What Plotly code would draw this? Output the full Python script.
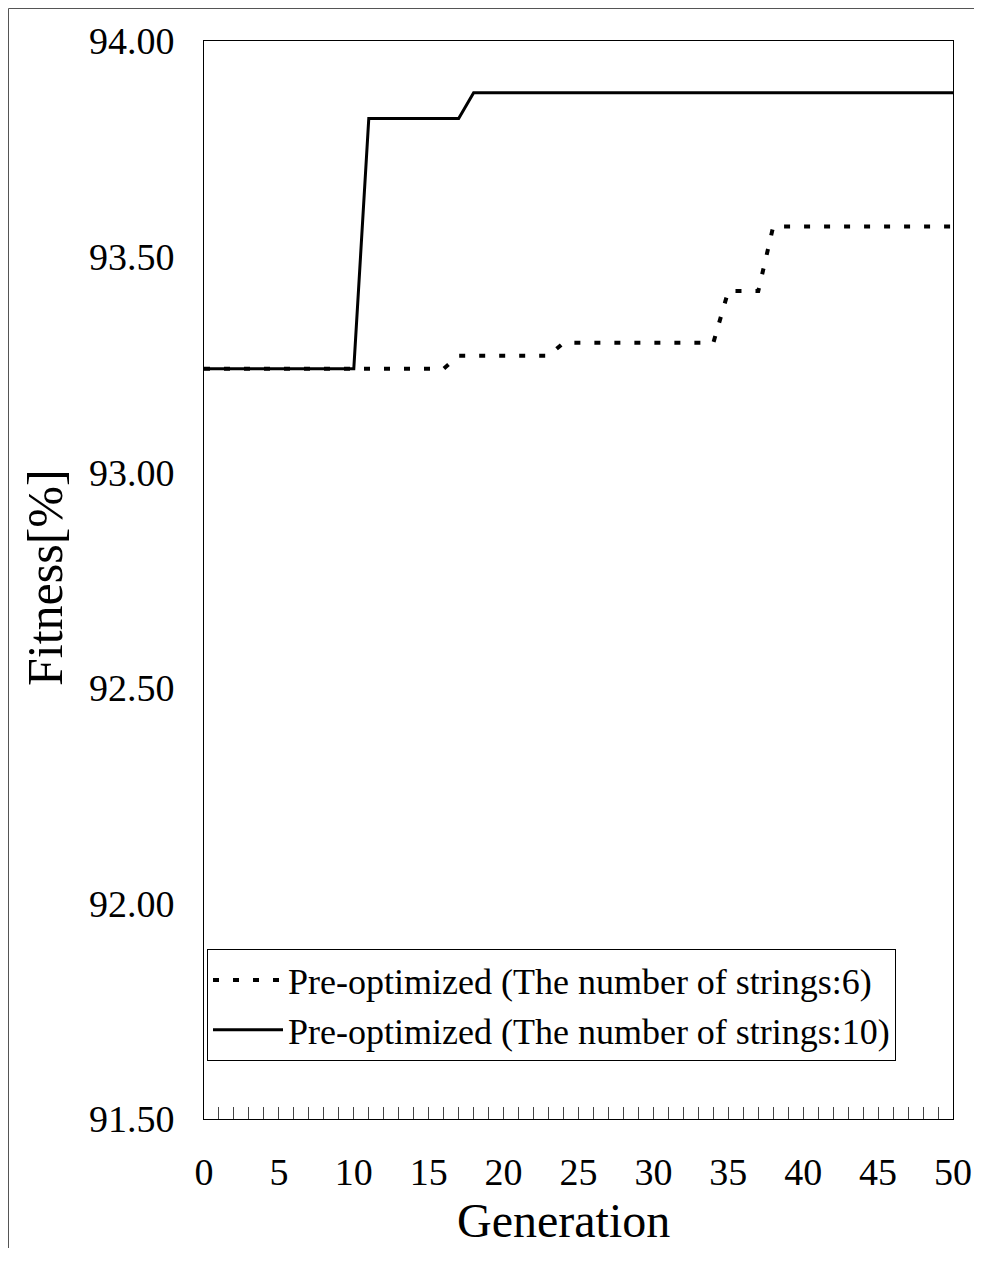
import plotly.graph_objects as go

generations = list(range(0, 51))
strings6 = [93.24] * 17 + [93.27] * 7 + [93.30] * 11 + [93.42] * 3 + [93.57] * 13
strings10 = [93.24] * 11 + [93.82] * 7 + [93.88] * 33
name6 = "Pre-optimized (The number of strings:6)"
name10 = "Pre-optimized (The number of strings:10)"
y_ticks = [91.5, 92.0, 92.5, 93.0, 93.5, 94.0]
x_ticks = list(range(0, 51, 5))
x_title = "Generation"
y_title = "Fitness[%]"

FONT = "Liberation Serif"
OFF = 8  # page body margin
W, H = 972, 1240
# target plot area in page pixels
PL, PR, PT, PB = 204, 953, 41, 1119
L, T = PL - OFF, PT - OFF
R, B = W - (PR - OFF), H - (PB - OFF)
pw, ph = W - L - R, H - T - B

def px(x):
    return (x - PL) / pw

def py(y):
    return (PB - y) / ph

fig = go.Figure()
fig.add_trace(go.Scatter(x=generations, y=strings6, mode="lines", name=name6,
                         line=dict(color="black", width=4, dash="6px,14px")))
fig.add_trace(go.Scatter(x=generations, y=strings10, mode="lines", name=name10,
                         line=dict(color="black", width=3)))

fig.update_layout(
    width=W, height=H, autosize=False,
    margin=dict(l=L, r=R, t=T, b=B, autoexpand=False),
    paper_bgcolor="white", plot_bgcolor="white",
    font=dict(family=FONT, color="black"),
    showlegend=True,
    legend=dict(x=px(207), y=py(949), xanchor="left", yanchor="top",
                bordercolor="black", borderwidth=1, bgcolor="white",
                font=dict(family=FONT, size=36, color="black"),
                itemwidth=70, tracegroupgap=0),
    xaxis=dict(range=[0, 50], tickvals=x_ticks, ticks="inside", ticklen=12,
               tickcolor="#444", tickwidth=1, automargin=False,
               minor=dict(ticks="inside", dtick=1, ticklen=12, tickcolor="#444", tickwidth=1),
               showline=True, linecolor="black", linewidth=1, mirror=True,
               showgrid=False, zeroline=False,
               tickfont=dict(family=FONT, size=38), ticklabelstandoff=19),
    yaxis=dict(range=[91.5, 94.0], tickvals=y_ticks, tickformat=".2f", ticks="",
               showline=True, linecolor="black", linewidth=1, mirror=True,
               showgrid=False, zeroline=False, automargin=False,
               tickfont=dict(family=FONT, size=38), ticklabelstandoff=21),
    annotations=[
        dict(text=x_title, xref="paper", yref="paper", x=px(563), y=py(1220),
             xanchor="center", yanchor="middle", showarrow=False,
             font=dict(family=FONT, size=48)),
        dict(text=y_title, xref="paper", yref="paper", x=px(45), y=py(578),
             xanchor="center", yanchor="middle", showarrow=False, textangle=-90,
             font=dict(family=FONT, size=50)),
    ],
    shapes=[
        dict(type="line", xref="paper", yref="paper", x0=px(OFF + 0.5), x1=px(OFF + 0.5),
             y0=py(OFF + H), y1=py(OFF + 0.5), line=dict(color="#555", width=1)),
        dict(type="line", xref="paper", yref="paper", x0=px(OFF + 0.5), x1=px(OFF + W),
             y0=py(OFF + 0.5), y1=py(OFF + 0.5), line=dict(color="#555", width=1)),
    ],
)

fig.write_html("out.html")
